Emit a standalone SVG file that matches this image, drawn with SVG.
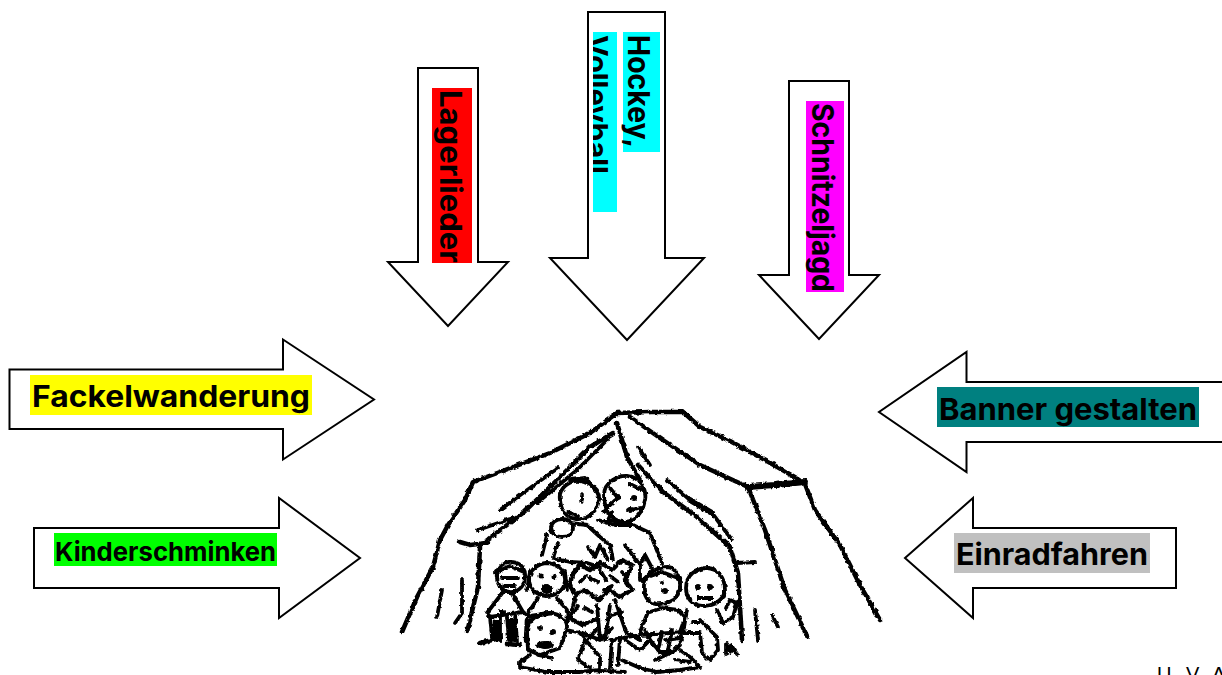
<svg xmlns="http://www.w3.org/2000/svg" width="1222" height="675" viewBox="0 0 1222 675">
<style>
.a{fill:#fff;stroke:#000;stroke-width:2;stroke-linejoin:miter}
.t{font-family:Inter,"Liberation Sans",sans-serif;font-weight:700;fill:#000}
.k{fill:none;stroke:#000;stroke-linecap:round;stroke-linejoin:round}
.w5{stroke-width:6}.w4{stroke-width:4.500}.w3{stroke-width:3.800}
.f{fill:#000;stroke:none}
</style>
<defs>
<clipPath id="vb"><rect x="593" y="32" width="24" height="180"/></clipPath>
<filter id="rough" x="-5%" y="-5%" width="110%" height="110%">
<feTurbulence type="fractalNoise" baseFrequency="0.25" numOctaves="2" seed="4" result="n"/>
<feDisplacementMap in="SourceGraphic" in2="n" scale="3.500" xChannelSelector="R" yChannelSelector="G"/>
</filter>
</defs>
<rect width="1222" height="675" fill="#fff"/>
<g id="arrow-lagerlieder">
<path class="a" d="M418 68H478V262H508L448 326L388 262H418Z"/>
<rect x="432" y="88" width="40" height="175" fill="#f00"/>
<text class="t" font-size="30" transform="translate(440 90) rotate(90)" textLength="173" lengthAdjust="spacingAndGlyphs">Lagerlieder</text>
</g>
<g id="arrow-sport">
<path class="a" d="M588 12H665V258H704L627 340L550 258H588Z"/>
<rect x="623" y="32" width="37" height="120" fill="#0ff"/>
<rect x="593" y="32" width="24" height="180" fill="#0ff"/>
<text class="t" font-size="30" transform="translate(628 35) rotate(90)" textLength="113" lengthAdjust="spacingAndGlyphs">Hockey,</text>
<g clip-path="url(#vb)"><text class="t" font-size="30" transform="translate(586 35) rotate(90)" textLength="139" lengthAdjust="spacingAndGlyphs">Volleyball</text></g>
</g>
<g id="arrow-schnitzeljagd">
<path class="a" d="M789 81H849V275H879L819 339L759 275H789Z"/>
<rect x="806" y="101" width="38" height="191" fill="#f0f"/>
<text class="t" font-size="30" transform="translate(812 103) rotate(90)" textLength="189" lengthAdjust="spacingAndGlyphs">Schnitzeljagd</text>
</g>
<g id="arrow-fackelwanderung">
<path class="a" d="M9.500 369.500H283V339.500L374 399.500L283 459.500V429H9.500Z"/>
<rect x="30" y="375" width="282" height="40" fill="#ff0"/>
<text class="t" font-size="30" x="32" y="407" textLength="278" lengthAdjust="spacingAndGlyphs">Fackelwanderung</text>
</g>
<g id="arrow-kinderschminken">
<path class="a" d="M34 528H279V498L360 558L279 618V588H34Z"/>
<rect x="54" y="533" width="223" height="33" fill="#0f0"/>
<text class="t" font-size="26" x="55" y="561" textLength="221" lengthAdjust="spacingAndGlyphs">Kinderschminken</text>
</g>
<g id="arrow-banner">
<path class="a" d="M1224 382H966.500V352L879 412L966.500 472V442H1224"/>
<rect x="937" y="387" width="262" height="40" fill="#008080"/>
<text class="t" font-size="30" x="939" y="420" textLength="258" lengthAdjust="spacingAndGlyphs">Banner gestalten</text>
</g>
<g id="arrow-einradfahren">
<path class="a" d="M1176 528H973V498L905 558L973 618V588H1176Z"/>
<rect x="954" y="533" width="196" height="40" fill="#c0c0c0"/>
<text class="t" font-size="30" x="956" y="565" textLength="192" lengthAdjust="spacingAndGlyphs">Einradfahren</text>
</g>
<g id="tent" filter="url(#rough)">
<g class="k w4">
<path d="M650 412L617 413L590 433L550 453L500 472L473 482L465 500L448 525L440 540L433 567L417 597L402 632"/>
<path d="M650 412L683 412L700 427L730 441L765 460L800 480"/>
<path class="w5" d="M748 487L775 485L805 482"/>
<path d="M805 484L815 510L840 545L860 585L880 620"/>
<path d="M630 417L660 438L700 465L748 487L765 530L785 590L807 636"/>
<path d="M617 423L627 457L640 480"/>
<path d="M613 433L590 447L557 480L523 513L487 540"/>
<path d="M460 542L470 545L487 543"/>
<path d="M480 547L478 587L467 632"/>
<path d="M638 465L663 492L697 517L730 547L738 573L742 640"/>
<path class="w5" d="M690 500L712 513"/>
</g>
<g class="k w3">
<path d="M607 440L577 470L537 503"/>
<path d="M558 468L523 493L500 510"/>
<path d="M513 518L478 530"/>
<path d="M462 580L462 613L455 623"/>
<path d="M442 590L437 617"/>
<path d="M547 535L542 555"/>
<path d="M667 480L690 500M712 513L732 540"/>
<path d="M638 447L650 465"/>
<path d="M737 563L755 562"/>
<path d="M755 610L758 640"/>
<path d="M772 615L778 627"/>
<path d="M560 500C558 488 570 480 580 481C590 482 600 492 599 500C597 512 588 520 576 519C566 518 561 510 560 500Z"/>
<path d="M570 480L585 478L597 490"/>
<path d="M568 512L578 516"/>
<ellipse cx="562" cy="528" rx="11" ry="9"/>
<path d="M570 523L587 525L600 537L610 545L613 560"/>
<path d="M558 543L553 558L570 562L587 563L600 567"/>
<path d="M588 547L595 557L600 545L608 560"/>
<path d="M604 495C604 482 618 475 628 476C640 477 647 490 645 500C643 512 636 521 625 522C612 522 604 510 604 495Z"/>
<path d="M610 488L618 498L610 505L604 512M628 510L640 508M612 512L608 520L618 522"/>
<path d="M630 484L642 490M598 520L615 525L633 525L650 533L662 563"/>
<path d="M497 578C495 567 505 561 512 562C522 563 526 570 525 578C524 588 516 593 509 592C502 591 498 586 497 578Z"/>
<path d="M496 572L510 566L524 572"/>
<path d="M503 592L487 613L490 617L523 612L512 593"/>
<path d="M523 612L530 617M490 617L492 637M500 617L500 640M507 617L509 640M515 614L517 642"/>
<path class="w4" d="M480 643L500 638M507 644L520 645"/>
<path d="M502 578L518 578M504 586L515 586"/>
<path d="M529 580C529 570 538 563 548 563C558 564 566 572 565 582C564 590 556 596 547 596C537 595 530 590 529 580Z"/>
<path d="M527 590L530 572M565 572L567 590"/>
<path d="M538 598L528 613M557 598L567 610L568 622"/>
<path d="M527 632C527 620 538 613 550 613C560 614 568 620 567 628L560 648L540 655L528 650Z"/>
<path class="w4" d="M527 620L526 640M532 616L552 613"/>
<path d="M530 655L520 662L520 667L547 672L580 672L600 670"/>
<path d="M567 630L580 633L600 657L600 668M585 640L578 660L590 668"/>
<path d="M538 655L552 658"/>
<path class="w4" d="M572 575L580 565L590 570L600 562L612 570L622 560L632 565L625 580L632 590L620 597L610 590L598 600L585 590L575 595L570 585Z" stroke-dasharray="7 3"/>
<path d="M575 598L570 618L582 625L595 620M615 600L626 632L640 640M597 605L600 640M610 605L605 640M580 632L600 640L612 628"/>
<path d="M590 578L598 582M610 576L618 582M600 570L606 580M585 608L592 612M612 615L622 612M580 582L586 576M604 590L612 586M622 572L628 578M578 606L574 612M588 640L596 630"/>
<path d="M640 580L640 565L645 555L653 570L643 580M625 545L640 565"/>
<path d="M612 640L610 668M620 638L618 665"/>
<path d="M644 585C646 574 656 567 668 567C676 568 681 578 680 588C679 598 668 605 656 604C648 603 643 595 644 585Z"/>
<path d="M648 577L662 572L678 578"/>
<path d="M650 612L662 608L678 610L685 618L680 632L682 640L674 652L660 652L650 640L645 630"/>
<path d="M648 612L640 632M610 640L640 635L685 632"/>
<path d="M662 632L658 650M672 630L668 650M625 640L640 650L650 640"/>
<path d="M686 588C686 575 696 568 708 568C718 569 725 578 725 590C724 600 714 606 702 606C692 605 686 598 686 588Z"/>
<path d="M687 610L683 633L700 633L702 653L710 660L718 650L717 637L700 620M692 622L702 622"/>
<path d="M717 610L723 623L733 617L737 603L730 600L726 608"/>
<path d="M726 654V644L731 652V645L737 654"/>
<path d="M622 660L640 668L657 672L680 670L700 667L690 657L680 650M675 660L690 662"/>
<path d="M600 671L625 672M655 660L672 652L680 645M680 638L665 640"/>
</g>
<g class="f">
<ellipse cx="547" cy="589" rx="6" ry="5"/><circle cx="541" cy="576" r="2.500"/><circle cx="554" cy="577" r="2.500"/>
<ellipse cx="582" cy="498" rx="2" ry="6"/>
<circle cx="618" cy="497" r="3"/><circle cx="634" cy="498" r="3"/><circle cx="630" cy="510" r="3"/>
<circle cx="662" cy="583" r="2"/><circle cx="665" cy="591" r="3"/>
<circle cx="698" cy="587" r="3"/><circle cx="710" cy="587" r="3"/>
<rect x="697" y="596" width="16" height="4"/>
<ellipse cx="545" cy="645" rx="9" ry="4"/><circle cx="540" cy="628" r="3"/><circle cx="553" cy="632" r="3"/>
<circle cx="502" cy="612" r="3"/>
<rect x="493" y="620" width="6" height="20"/><rect x="509" y="618" width="6" height="24"/>
</g>
</g>
<text id="corner-text" font-family="Liberation Sans,sans-serif" font-size="20" fill="#000" x="1157 1172 1186 1205 1212" y="681">U V A</text>
</svg>
